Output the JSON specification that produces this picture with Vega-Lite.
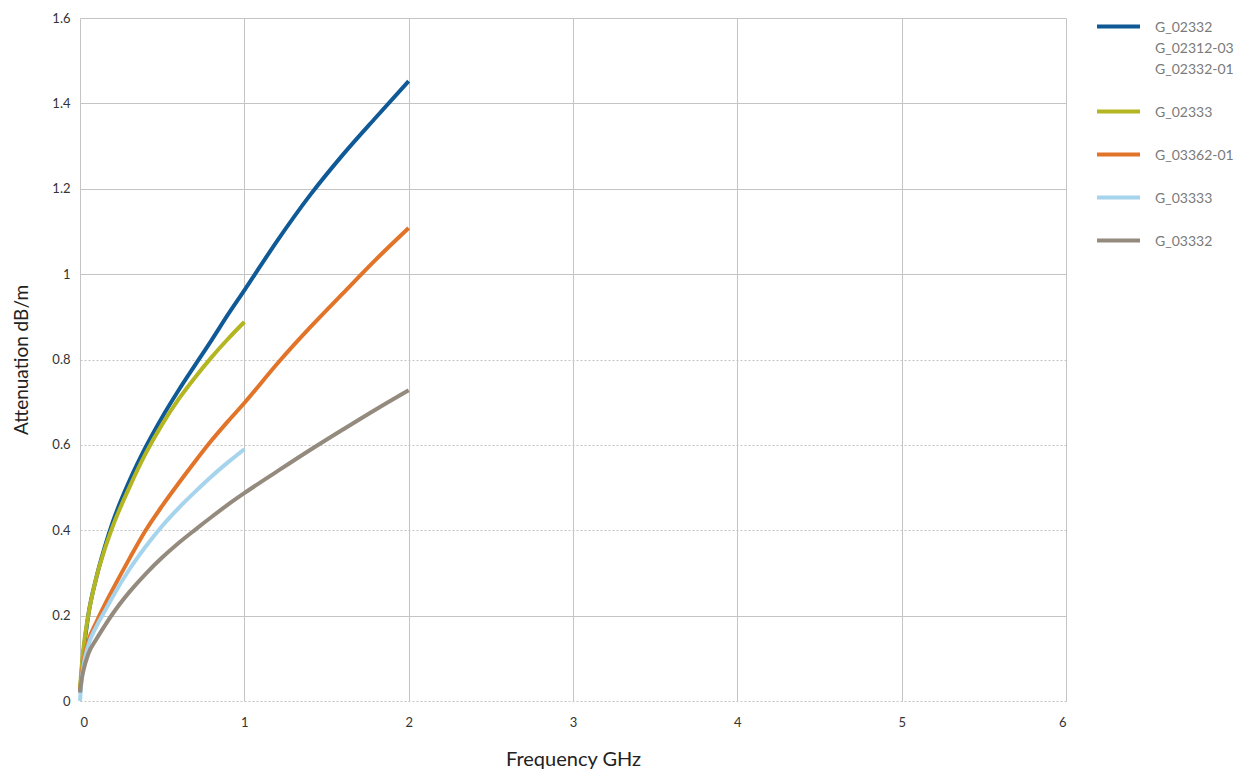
{
  "$schema": "https://vega.github.io/schema/vega-lite/v6.json",
  "width": 986,
  "height": 683,
  "autosize": "none",
  "padding": {"left": 80, "top": 18, "right": 180, "bottom": 69},
  "background": "white",
  "config": {
    "font": "Lato",
    "view": {"stroke": null}
  },
  "datasets": {
    "curves": [
      {"s": "G_02332|G_02312-03|G_02332-01", "f": 0, "a": 0.02},
      {"s": "G_02332|G_02312-03|G_02332-01", "f": 0.01, "a": 0.07},
      {"s": "G_02332|G_02312-03|G_02332-01", "f": 0.02, "a": 0.11},
      {"s": "G_02332|G_02312-03|G_02332-01", "f": 0.05, "a": 0.2},
      {"s": "G_02332|G_02312-03|G_02332-01", "f": 0.1, "a": 0.29},
      {"s": "G_02332|G_02312-03|G_02332-01", "f": 0.15, "a": 0.36},
      {"s": "G_02332|G_02312-03|G_02332-01", "f": 0.2, "a": 0.42},
      {"s": "G_02332|G_02312-03|G_02332-01", "f": 0.3, "a": 0.515},
      {"s": "G_02332|G_02312-03|G_02332-01", "f": 0.4, "a": 0.595},
      {"s": "G_02332|G_02312-03|G_02332-01", "f": 0.5, "a": 0.665},
      {"s": "G_02332|G_02312-03|G_02332-01", "f": 0.6, "a": 0.728},
      {"s": "G_02332|G_02312-03|G_02332-01", "f": 0.7, "a": 0.787},
      {"s": "G_02332|G_02312-03|G_02332-01", "f": 0.8, "a": 0.845},
      {"s": "G_02332|G_02312-03|G_02332-01", "f": 0.9, "a": 0.905},
      {"s": "G_02332|G_02312-03|G_02332-01", "f": 1.0, "a": 0.962},
      {"s": "G_02332|G_02312-03|G_02332-01", "f": 1.2, "a": 1.078},
      {"s": "G_02332|G_02312-03|G_02332-01", "f": 1.4, "a": 1.185},
      {"s": "G_02332|G_02312-03|G_02332-01", "f": 1.6, "a": 1.28},
      {"s": "G_02332|G_02312-03|G_02332-01", "f": 1.8, "a": 1.367},
      {"s": "G_02332|G_02312-03|G_02332-01", "f": 2.0, "a": 1.452},

      {"s": "G_02333", "f": 0, "a": 0.03},
      {"s": "G_02333", "f": 0.01, "a": 0.08},
      {"s": "G_02333", "f": 0.02, "a": 0.12},
      {"s": "G_02333", "f": 0.05, "a": 0.2},
      {"s": "G_02333", "f": 0.1, "a": 0.29},
      {"s": "G_02333", "f": 0.15, "a": 0.355},
      {"s": "G_02333", "f": 0.2, "a": 0.41},
      {"s": "G_02333", "f": 0.3, "a": 0.5},
      {"s": "G_02333", "f": 0.4, "a": 0.58},
      {"s": "G_02333", "f": 0.5, "a": 0.648},
      {"s": "G_02333", "f": 0.6, "a": 0.707},
      {"s": "G_02333", "f": 0.7, "a": 0.758},
      {"s": "G_02333", "f": 0.8, "a": 0.805},
      {"s": "G_02333", "f": 0.9, "a": 0.848},
      {"s": "G_02333", "f": 1.0, "a": 0.888},

      {"s": "G_03362-01", "f": 0, "a": 0.02},
      {"s": "G_03362-01", "f": 0.01, "a": 0.06},
      {"s": "G_03362-01", "f": 0.02, "a": 0.09},
      {"s": "G_03362-01", "f": 0.05, "a": 0.14},
      {"s": "G_03362-01", "f": 0.1, "a": 0.185},
      {"s": "G_03362-01", "f": 0.15, "a": 0.225},
      {"s": "G_03362-01", "f": 0.2, "a": 0.262},
      {"s": "G_03362-01", "f": 0.3, "a": 0.333},
      {"s": "G_03362-01", "f": 0.4, "a": 0.4},
      {"s": "G_03362-01", "f": 0.5, "a": 0.457},
      {"s": "G_03362-01", "f": 0.6, "a": 0.51},
      {"s": "G_03362-01", "f": 0.7, "a": 0.561},
      {"s": "G_03362-01", "f": 0.8, "a": 0.61},
      {"s": "G_03362-01", "f": 0.9, "a": 0.655},
      {"s": "G_03362-01", "f": 1.0, "a": 0.698},
      {"s": "G_03362-01", "f": 1.2, "a": 0.79},
      {"s": "G_03362-01", "f": 1.4, "a": 0.875},
      {"s": "G_03362-01", "f": 1.6, "a": 0.955},
      {"s": "G_03362-01", "f": 1.8, "a": 1.034},
      {"s": "G_03362-01", "f": 2.0, "a": 1.108},

      {"s": "G_03333", "f": 0, "a": 0.0},
      {"s": "G_03333", "f": 0.01, "a": 0.05},
      {"s": "G_03333", "f": 0.02, "a": 0.08},
      {"s": "G_03333", "f": 0.05, "a": 0.13},
      {"s": "G_03333", "f": 0.1, "a": 0.175},
      {"s": "G_03333", "f": 0.15, "a": 0.21},
      {"s": "G_03333", "f": 0.2, "a": 0.245},
      {"s": "G_03333", "f": 0.3, "a": 0.308},
      {"s": "G_03333", "f": 0.4, "a": 0.362},
      {"s": "G_03333", "f": 0.5, "a": 0.41},
      {"s": "G_03333", "f": 0.6, "a": 0.452},
      {"s": "G_03333", "f": 0.7, "a": 0.49},
      {"s": "G_03333", "f": 0.8, "a": 0.526},
      {"s": "G_03333", "f": 0.9, "a": 0.559},
      {"s": "G_03333", "f": 1.0, "a": 0.59},

      {"s": "G_03332", "f": 0, "a": 0.02},
      {"s": "G_03332", "f": 0.01, "a": 0.05},
      {"s": "G_03332", "f": 0.02, "a": 0.07},
      {"s": "G_03332", "f": 0.05, "a": 0.11},
      {"s": "G_03332", "f": 0.1, "a": 0.145},
      {"s": "G_03332", "f": 0.15, "a": 0.176},
      {"s": "G_03332", "f": 0.2, "a": 0.205},
      {"s": "G_03332", "f": 0.3, "a": 0.255},
      {"s": "G_03332", "f": 0.4, "a": 0.298},
      {"s": "G_03332", "f": 0.5, "a": 0.336},
      {"s": "G_03332", "f": 0.6, "a": 0.37},
      {"s": "G_03332", "f": 0.7, "a": 0.401},
      {"s": "G_03332", "f": 0.8, "a": 0.431},
      {"s": "G_03332", "f": 0.9, "a": 0.46},
      {"s": "G_03332", "f": 1.0, "a": 0.487},
      {"s": "G_03332", "f": 1.2, "a": 0.538},
      {"s": "G_03332", "f": 1.4, "a": 0.588},
      {"s": "G_03332", "f": 1.6, "a": 0.636},
      {"s": "G_03332", "f": 1.8, "a": 0.683},
      {"s": "G_03332", "f": 2.0, "a": 0.728}
    ]
  },
  "data": {"name": "curves"},
  "mark": {"type": "line", "strokeWidth": 4, "interpolate": "monotone"},
  "encoding": {
    "x": {
      "field": "f",
      "type": "quantitative",
      "scale": {"domain": [0, 6], "nice": false},
      "axis": {
        "title": "Frequency GHz",
        "values": [0, 1, 2, 3, 4, 5, 6],
        "format": "d",
        "domain": false,
        "ticks": false,
        "labelPadding": 15,
        "labelFontSize": 13,
        "labelColor": "#333333",
        "titleFontSize": 20,
        "titleFontWeight": "normal",
        "titleColor": "#222222",
        "titlePadding": 20,
        "gridColor": "#c4c4c4",
        "gridWidth": 1
      }
    },
    "y": {
      "field": "a",
      "type": "quantitative",
      "scale": {"domain": [0, 1.6], "nice": false},
      "axis": {
        "title": "Attenuation dB/m",
        "values": [0, 0.2, 0.4, 0.6, 0.8, 1, 1.2, 1.4, 1.6],
        "format": "~g",
        "domain": false,
        "ticks": false,
        "labelPadding": 10,
        "labelFontSize": 13,
        "labelColor": "#333333",
        "titleFontSize": 19,
        "titleFontWeight": "normal",
        "titleColor": "#222222",
        "titlePadding": 20,
        "gridColor": "#c4c4c4",
        "gridWidth": 1,
        "gridDash": {
          "condition": {"test": "datum.value == 0 || (datum.value > 0.3 && datum.value < 0.9)", "value": [2, 2]},
          "value": []
        }
      }
    },
    "color": {
      "field": "s",
      "type": "nominal",
      "scale": {
        "domain": ["G_02332|G_02312-03|G_02332-01", "G_02333", "G_03362-01", "G_03333", "G_03332"],
        "range": ["#0f5a96", "#b3b621", "#e2742a", "#a6d4ec", "#948a7d"]
      },
      "legend": {
        "title": null,
        "orient": "none",
        "legendX": 1015,
        "legendY": -15,
        "symbolType": "stroke",
        "symbolSize": 1849,
        "symbolStrokeWidth": 4,
        "labelFontSize": 14,
        "labelColor": "#7a7a7a",
        "labelOffset": 13,
        "labelLimit": 300,
        "labelExpr": "split(datum.label, '|')",
        "labelBaseline": "alphabetic",
        "rowPadding": 11,
        "padding": 0,
        "encode": {
          "labels": {"update": {"dy": {"value": 5}, "lineHeight": {"value": 21}}}
        }
      }
    }
  }
}
